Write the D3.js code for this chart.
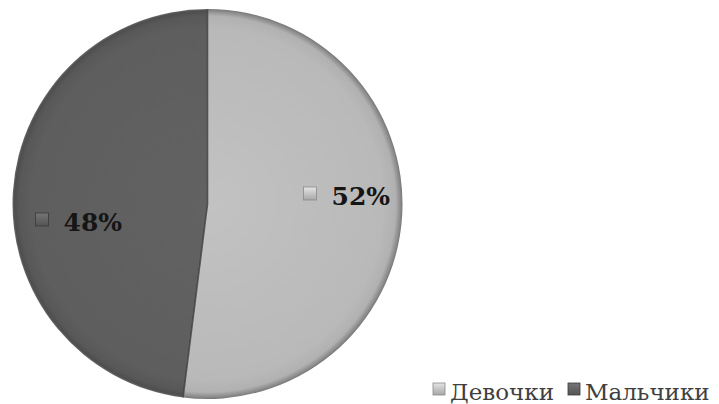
<!DOCTYPE html>
<html>
<head>
<meta charset="utf-8">
<script src="https://cdn.jsdelivr.net/npm/d3@7"></script>
<style>
  html, body { margin: 0; padding: 0; background: #fff; }
  svg { display: block; }
</style>
</head>
<body>
<svg id="chart" width="719" height="404"></svg>
<script>
// Share of pupils by gender
const categories = ["Девочки", "Мальчики"];
const values = [52, 48];
const labels = ["52%", "48%"];

const cx = 207.5, cy = 204, R = 195;
const fills = ["#bababa", "#5f5f5f"];
// label anchor offsets from the pie centre (layout only)
const labelPos = [[96, -4], [-172, 22]];

const svg = d3.select("#chart");
const defs = svg.append("defs");

// bevel-like shading for each slice
const gLight = defs.append("radialGradient").attr("id", "gLight")
  .attr("gradientUnits", "userSpaceOnUse").attr("cx", 0).attr("cy", 0).attr("r", R);
[[0, "#c2c2c2"], [0.9, "#b9b9b9"], [0.965, "#b1b1b1"], [0.99, "#8a8a8a"], [1, "#777"]]
  .forEach(([o, c]) => gLight.append("stop").attr("offset", o).attr("stop-color", c));

const gDark = defs.append("radialGradient").attr("id", "gDark")
  .attr("gradientUnits", "userSpaceOnUse").attr("cx", 0).attr("cy", 0).attr("r", R);
[[0, "#626262"], [0.9, "#5e5e5e"], [0.965, "#585858"], [0.99, "#4e4e4e"], [1, "#6a6a6a"]]
  .forEach(([o, c]) => gDark.append("stop").attr("offset", o).attr("stop-color", c));

// small key swatches with a soft highlight
const keyGrad = fills.map((f, i) => {
  const lg = defs.append("linearGradient").attr("id", "key" + i)
    .attr("x1", 0).attr("y1", 0).attr("x2", 0).attr("y2", 1);
  const c = d3.color(f);
  lg.append("stop").attr("offset", 0).attr("stop-color", c.brighter(0.6));
  lg.append("stop").attr("offset", 0.45).attr("stop-color", c.brighter(0.2));
  lg.append("stop").attr("offset", 1).attr("stop-color", c.darker(0.3));
  return "url(#key" + i + ")";
});
const keyStroke = ["#8a8a8a", "#3a3a3a"];

const pie = d3.pie().sort(null).value(d => d);
const arcs = pie(values);
const arc = d3.arc().innerRadius(0).outerRadius(R);

const g = svg.append("g").attr("transform", `translate(${cx},${cy})`);

g.selectAll("path.slice").data(arcs).join("path")
  .attr("class", "slice")
  .attr("d", arc)
  .attr("fill", (d, i) => i === 0 ? "url(#gLight)" : "url(#gDark)");

// dividing edges between slices
arcs.forEach(d => {
  const a = d.startAngle;
  g.append("line")
    .attr("x1", 0).attr("y1", 0)
    .attr("x2", R * Math.sin(a)).attr("y2", -R * Math.cos(a))
    .attr("stroke", "#3e3e3e").attr("stroke-width", 1.6).attr("opacity", 0.8);
});

// data labels with small colour keys
const labelFont = "'DejaVu Serif', 'Liberation Serif', serif";
arcs.forEach((d, i) => {
  const [lx, ly] = labelPos[i];
  const lg = g.append("g").attr("transform", `translate(${lx},${ly})`);
  lg.append("rect").attr("x", 0).attr("y", -13).attr("width", 13).attr("height", 13)
    .attr("fill", keyGrad[i]).attr("stroke", keyStroke[i]).attr("stroke-width", 0.8);
  lg.append("text").attr("x", 28).attr("y", 5)
    .attr("font-family", labelFont).attr("font-weight", "bold").attr("font-size", 25)
    .attr("fill", "#151515").text(labels[i]);
});

// legend
const legend = svg.append("g").attr("transform", "translate(433,383)");
const legendX = [0, 135];
categories.forEach((c, i) => {
  const it = legend.append("g").attr("transform", `translate(${legendX[i]},0)`);
  it.append("rect").attr("x", 0).attr("y", 0).attr("width", 12).attr("height", 12)
    .attr("fill", keyGrad[i]).attr("stroke", keyStroke[i]).attr("stroke-width", 0.8);
  it.append("text").attr("x", 17).attr("y", 17)
    .attr("font-family", labelFont).attr("font-size", 23).attr("fill", "#404040").text(c);
});
</script>
</body>
</html>
